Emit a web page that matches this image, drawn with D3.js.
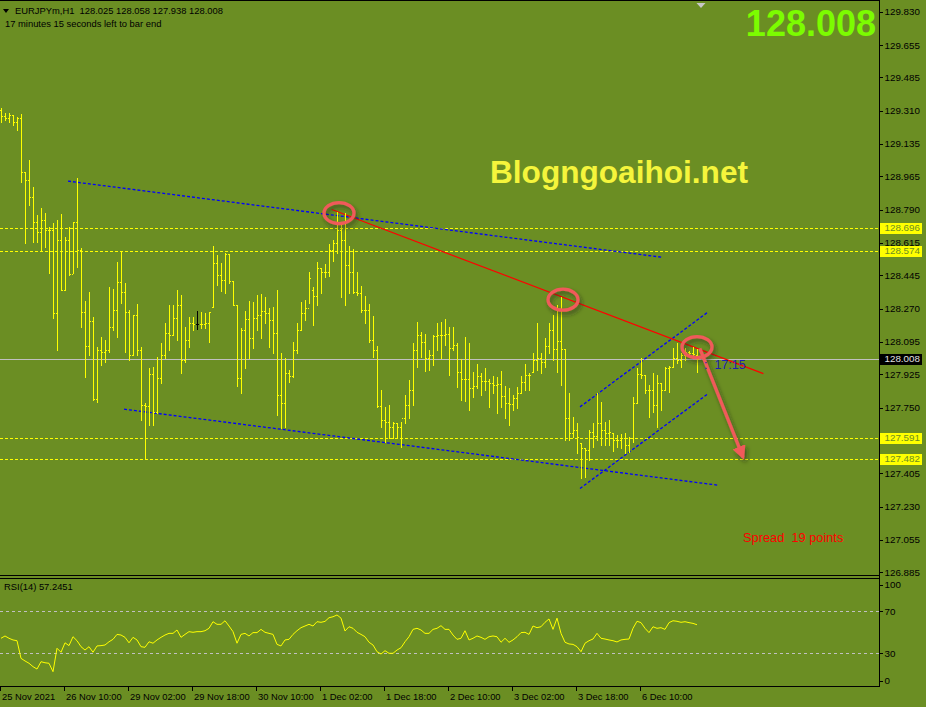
<!DOCTYPE html>
<meta charset="utf-8">
<body style="margin:0;background:#6b8e23">
<script src="https://cdn.jsdelivr.net/npm/d3@7"></script>
<script>
// EURJPYm H1 bars
var opens = [129.313,129.281,129.271,129.287,129.250,129.271,128.987,128.945,128.856,128.724,128.672,128.735,128.683,128.683,128.246,128.630,128.367,128.630,128.451,128.724,
128.577,128.251,128.073,128.204,127.794,128.052,128.041,128.052,128.173,128.262,128.409,128.357,128.251,128.026,128.236,128.052,127.763,127.757,127.926,127.726,
127.905,128.026,128.141,128.131,128.220,128.289,127.999,128.104,128.194,128.188,128.188,128.188,128.194,128.278,128.509,128.446,128.420,128.556,128.414,128.289,
127.905,128.157,128.215,128.115,128.220,128.236,128.257,128.246,128.209,128.141,127.815,127.773,127.931,127.915,128.052,128.157,128.246,128.272,128.367,128.336,
128.483,128.462,128.462,128.577,128.614,128.683,128.630,128.498,128.462,128.357,128.351,128.262,128.262,128.104,128.052,127.757,127.684,127.673,127.647,127.668,
127.647,127.694,127.763,127.842,128.052,128.131,128.094,128.010,128.026,128.125,128.131,128.131,128.136,128.062,128.078,127.936,127.899,127.899,127.852,127.863,
127.915,127.889,127.889,127.878,127.868,127.873,127.810,127.773,127.768,127.799,127.826,127.884,127.920,127.936,127.999,128.010,127.989,128.073,128.157,128.057,
128.099,128.057,127.694,127.616,127.631,127.563,127.537,127.526,127.621,127.600,127.668,127.631,127.616,127.616,127.579,127.579,127.589,127.552,127.589,127.773,
127.926,127.920,127.842,127.842,127.763,127.878,127.842,127.957,127.962,128.010,127.999,128.026,128.041,128.036,128.025];
var highs = [129.324,129.297,129.297,129.287,129.276,129.292,128.987,129.050,128.908,128.762,128.798,128.772,128.698,128.719,128.735,128.767,128.646,128.698,128.724,128.956,
128.588,128.309,128.357,128.225,128.068,128.120,128.104,128.383,128.373,128.514,128.567,128.404,128.262,128.236,128.294,128.068,127.773,127.957,127.962,128.015,
128.089,128.194,128.289,128.289,128.367,128.341,128.173,128.225,128.225,128.257,128.251,128.246,128.251,128.598,128.551,128.509,128.561,128.556,128.414,128.289,
128.167,128.257,128.309,128.304,128.341,128.346,128.330,128.272,128.278,128.367,128.036,128.010,127.947,128.094,128.194,128.304,128.315,128.462,128.383,128.514,
128.483,128.504,128.609,128.630,128.777,128.724,128.772,128.598,128.582,128.462,128.388,128.336,128.294,128.231,128.073,127.842,127.752,127.763,127.673,127.668,
127.673,127.815,127.894,128.089,128.199,128.146,128.136,128.052,128.131,128.194,128.199,128.215,128.173,128.173,128.089,128.004,128.120,128.089,127.936,127.978,
127.931,127.957,127.899,127.915,127.910,127.941,127.863,127.852,127.815,127.857,127.915,127.978,127.931,128.036,128.194,128.036,128.115,128.194,128.236,128.289,
128.330,128.057,127.826,127.700,127.668,127.563,127.537,127.631,127.668,127.826,127.778,127.673,127.684,127.616,127.605,127.610,127.616,127.595,127.805,127.957,
128.010,127.920,127.868,127.931,127.920,127.878,127.962,127.968,128.062,128.089,128.036,128.062,128.047,128.068,128.058];
var lows = [129.250,129.261,129.250,129.235,129.208,128.934,128.614,128.814,128.619,128.619,128.577,128.593,128.456,128.220,128.052,128.367,128.367,128.446,128.456,128.488,
128.172,127.910,128.026,127.789,127.778,127.973,127.989,128.041,128.157,128.120,128.299,128.041,127.999,128.026,128.026,127.684,127.484,127.658,127.658,127.721,
127.878,128.010,128.052,128.131,128.104,127.931,127.989,128.068,128.157,128.162,128.167,128.167,128.094,128.278,128.394,128.362,128.351,128.404,128.289,127.863,
127.826,127.957,128.010,128.062,128.157,128.115,128.194,128.068,128.036,127.710,127.642,127.647,127.884,127.910,128.036,128.157,128.209,128.299,128.183,128.289,
128.351,128.435,128.441,128.519,128.561,128.330,128.289,128.351,128.351,128.341,128.251,128.194,128.094,128.015,127.752,127.647,127.568,127.589,127.589,127.589,
127.542,127.668,127.694,127.763,127.962,128.015,127.941,127.947,127.973,128.052,128.010,128.078,127.920,128.052,127.857,127.789,127.784,127.737,127.805,127.852,
127.815,127.842,127.752,127.826,127.721,127.752,127.694,127.658,127.737,127.747,127.826,127.842,127.842,127.936,127.947,127.931,127.962,128.036,127.999,127.936,
127.868,127.579,127.579,127.595,127.510,127.379,127.384,127.474,127.542,127.579,127.552,127.552,127.552,127.521,127.542,127.537,127.510,127.516,127.568,127.773,
127.905,127.826,127.700,127.726,127.647,127.737,127.842,127.831,127.962,127.983,127.962,127.999,128.015,128.015,127.938];
var closes = [129.281,129.271,129.287,129.250,129.271,128.987,128.945,128.856,128.724,128.672,128.735,128.683,128.683,128.246,128.630,128.367,128.630,128.451,128.724,128.577,
128.251,128.073,128.204,127.794,128.052,128.041,128.052,128.173,128.262,128.409,128.357,128.251,128.026,128.236,128.052,127.763,127.757,127.926,127.726,127.905,
128.026,128.141,128.131,128.220,128.289,127.999,128.104,128.194,128.188,128.188,128.188,128.194,128.251,128.509,128.446,128.420,128.556,128.414,128.289,127.905,
128.157,128.215,128.115,128.220,128.236,128.257,128.246,128.209,128.141,127.815,127.773,127.931,127.915,128.052,128.157,128.246,128.272,128.430,128.336,128.483,
128.462,128.462,128.577,128.614,128.683,128.630,128.498,128.462,128.357,128.351,128.262,128.262,128.104,128.052,127.757,127.684,127.673,127.647,127.668,127.647,
127.694,127.763,127.842,128.052,128.131,128.094,128.010,128.026,128.125,128.131,128.131,128.136,128.062,128.078,127.936,127.899,127.899,127.852,127.863,127.915,
127.889,127.889,127.878,127.868,127.873,127.810,127.773,127.768,127.800,127.826,127.884,127.920,127.920,127.999,128.010,127.989,128.073,128.157,128.057,128.099,
128.057,127.694,127.616,127.631,127.595,127.537,127.526,127.621,127.600,127.668,127.631,127.616,127.621,127.579,127.579,127.589,127.552,127.589,127.773,127.926,
127.920,127.842,127.842,127.763,127.878,127.842,127.957,127.962,128.010,127.999,128.026,128.041,128.036,128.031,128.008];
var rsi = [44.3,46.5,44.3,42.7,42,25.2,22.7,20.5,17.3,15,22,21,20.5,12.5,34.8,31,40,37.3,45.8,42,
36.3,33.1,36.3,31,37,37.3,37.9,41,43.3,48,47.4,45.2,40,45.2,42.7,36.3,35.7,41,39.6,42.7,
45.2,47.4,49,49,52.2,45.2,48,50.6,50,50.6,50.6,51.5,53.8,60.1,57.6,57.6,61,56,50.6,39.6,
48,49,46.5,49.7,49.7,52.8,50,49,48,38.5,37,42.7,43.3,48,51.5,54.4,56,57.6,56,60.1,
59.5,60.4,63.9,64.8,66.5,63.5,51.2,55.3,53.8,50,48,45.8,40.5,37.9,31.5,29.3,32.5,30,30,33.1,
35.3,41,45.8,52.8,53.8,52.2,49,49,52.8,53.8,56.3,52.8,52.8,47.4,43.3,44.3,51.5,42.7,44.3,46.5,
45.2,43.3,45.8,46.5,45.8,40.5,44.3,40.5,42.7,45.8,49.7,50,48,56,54.4,55.3,59.5,62.7,52.8,63.5,
49,40.5,38.9,38.5,36.3,31.5,39.6,42,43.6,49,44.3,43.6,42.7,42,40.8,42.7,43.3,43.6,53.8,60.5,
59.2,53.8,49.7,55.3,53.8,54.4,52.8,59.2,61,60.5,59.5,60.1,59.2,58.5,57.2];
var rsiLast = "57.2451";

var priceTicks = [129.830,129.655,129.485,129.310,129.135,128.965,128.790,128.615,128.445,128.270,128.095,127.925,127.750,127.575,127.405,127.230,127.055,126.885];
var levels = [128.696,128.574,127.591,127.482];
var lastPrice = 128.008;
var rsiLevels = [70,30];
var rsiTicks = [100,70,30,0];
var timeLabels = ["25 Nov 2021","26 Nov 10:00","29 Nov 02:00","29 Nov 18:00","30 Nov 10:00","1 Dec 02:00","1 Dec 18:00","2 Dec 10:00","3 Dec 02:00","3 Dec 18:00","6 Dec 10:00"];
var barsPerLabel = 16;

// trend lines as [bar, price, bar, price]
var blueLines = [[16.75,128.940,165.25,128.540],[30.75,127.742,179.5,127.342],[144.75,127.754,176.8,128.253],[144.75,127.325,176.8,127.824]];
var redLine = [82.7,128.791,190.6,127.929];
// red marks drawn on the screenshot: [bar, price]
var circles = [[84.5,128.772],[140.5,128.317],[174,128.068]];
var arrow = [174.7,128.061,185.5,127.49];

var W = 926, H = 707;
var nb = "\u00a0";
var svg = d3.select("body").append("svg")
	.attr("width", W).attr("height", H)
	.style("display","block")
	.style("font-family","'Liberation Sans', Arial, sans-serif");

var x = d3.scaleLinear().domain([0, 219.75]).range([1, 880]);
var y = d3.scaleLinear().domain([126.885, 129.830]).range([572.3, 11.7]);
var yr = d3.scaleLinear().domain([0, 100]).range([684.8, 579.8]);
var px = function(v){ return Math.round(v) + 0.5; };

var defs = svg.append("defs");
defs.append("clipPath").attr("id","main").append("rect").attr("x",0).attr("y",1).attr("width",879).attr("height",574);
defs.append("clipPath").attr("id","sub").append("rect").attr("x",0).attr("y",579).attr("width",879).attr("height",107);
var f = defs.append("filter").attr("id","shadow").attr("x","-30%").attr("y","-30%").attr("width","160%").attr("height","160%");
f.append("feDropShadow").attr("dx",2).attr("dy",3).attr("stdDeviation",2).attr("flood-color","#222").attr("flood-opacity",0.55);
defs.append("marker").attr("id","head").attr("viewBox","0 0 10 10").attr("refX",8).attr("refY",5)
	.attr("markerWidth",4.2).attr("markerHeight",4.2).attr("orient","auto").attr("markerUnits","strokeWidth")
	.append("path").attr("d","M0,0 L10,5 L0,10 z").attr("fill","#f05a5a");

// panel frames
var frame = svg.append("g").attr("stroke","#000").attr("shape-rendering","crispEdges");
frame.append("line").attr("x1",0).attr("x2",880).attr("y1",0.5).attr("y2",0.5);
frame.append("line").attr("x1",879.5).attr("x2",879.5).attr("y1",0).attr("y2",687);
[575.5, 578.5, 686.5].forEach(function(v){
	frame.append("line").attr("x1",0).attr("x2",880).attr("y1",v).attr("y2",v);
});

var main = svg.append("g").attr("clip-path","url(#main)");

// horizontal levels
main.selectAll(".lvl").data(levels).enter().append("line")
	.attr("x1",0).attr("x2",879).attr("y1",function(d){return px(y(d));}).attr("y2",function(d){return px(y(d));})
	.attr("stroke","#ffff00").attr("stroke-dasharray","3,2").attr("shape-rendering","crispEdges");
main.append("line").attr("x1",0).attr("x2",879).attr("y1",px(y(lastPrice))).attr("y2",px(y(lastPrice)))
	.attr("stroke","#c0c0c0").attr("shape-rendering","crispEdges");

// trend lines
main.selectAll(".bl").data(blueLines).enter().append("line")
	.attr("x1",function(d){return x(d[0]);}).attr("y1",function(d){return y(d[1]);})
	.attr("x2",function(d){return x(d[2]);}).attr("y2",function(d){return y(d[3]);})
	.attr("stroke","#0000ff").attr("stroke-width",1.3).attr("stroke-dasharray","3,2");
main.append("line")
	.attr("x1",x(redLine[0])).attr("y1",y(redLine[1])).attr("x2",x(redLine[2])).attr("y2",y(redLine[3]))
	.attr("stroke","#ff0000").attr("stroke-width",1.2);

// OHLC bars
var bars = main.append("g").attr("shape-rendering","crispEdges");
d3.range(opens.length).forEach(function(i){
	var c = (i === 49) ? "#000" : "#ffff00";
	var bx = Math.round(x(i));
	var top = Math.round(y(highs[i])), bot = Math.round(y(lows[i]));
	bars.append("rect").attr("x",bx).attr("y",top).attr("width",1).attr("height",Math.max(1, bot - top + 1)).attr("fill",c);
	bars.append("rect").attr("x",bx-1).attr("y",Math.round(y(opens[i]))).attr("width",1).attr("height",1).attr("fill",c);
	bars.append("rect").attr("x",bx+1).attr("y",Math.round(y(closes[i]))).attr("width",1).attr("height",1).attr("fill",c);
});

// watermark text
svg.append("text").attr("x",490).attr("y",183).attr("font-size",31.6).attr("font-weight","bold")
	.attr("fill","#f5f53c").text("Blogngoaihoi.net");

// hand drawn red marks
var marks = svg.append("g").attr("filter","url(#shadow)");
marks.selectAll("ellipse").data(circles).enter().append("ellipse")
	.attr("cx",function(d){return x(d[0]);}).attr("cy",function(d){return y(d[1]);})
	.attr("rx",15).attr("ry",10.5).attr("fill","none").attr("stroke","#f05a5a").attr("stroke-width",3.3);
marks.append("line").attr("x1",x(arrow[0])).attr("y1",y(arrow[1])).attr("x2",x(arrow[2])).attr("y2",y(arrow[3]))
	.attr("stroke","#f05a5a").attr("stroke-width",3.3).attr("marker-end","url(#head)");

// countdown and spread
svg.append("text").attr("x",704).attr("y",369).attr("font-size",12.5).attr("fill","#1e1eb4").text(":" + nb + nb + "17:15");
svg.append("text").attr("x",743).attr("y",542).attr("font-size",12.8).attr("fill","#ff0000").text("Spread" + nb + nb + "19 points");

// price axis
var axis = svg.append("g").attr("font-size",9.8);
priceTicks.forEach(function(t){
	axis.append("line").attr("x1",879).attr("x2",883).attr("y1",px(y(t))).attr("y2",px(y(t))).attr("stroke","#000").attr("shape-rendering","crispEdges");
	axis.append("text").attr("x",884.5).attr("y",y(t)+3.5).attr("fill","#000").text(t.toFixed(3));
});
levels.forEach(function(l){
	axis.append("rect").attr("x",880).attr("y",Math.round(y(l))-5).attr("width",42).attr("height",11).attr("fill","#ffff00");
	axis.append("text").attr("x",884.5).attr("y",y(l)+3.5).attr("fill","#6b8e23").text(l.toFixed(3));
});
axis.append("rect").attr("x",880).attr("y",Math.round(y(lastPrice))-5).attr("width",42).attr("height",11).attr("fill","#000");
axis.append("text").attr("x",884.5).attr("y",y(lastPrice)+3.5).attr("fill","#e0e0e0").text(lastPrice.toFixed(3));

// big price
svg.append("text").attr("x",876).attr("y",36).attr("text-anchor","end").attr("font-size",36).attr("font-weight","bold")
	.attr("fill","#7cfc00").text(lastPrice.toFixed(3));

// chart shift marker
var sx = x(opens.length);
svg.append("path").attr("d","M"+(sx-4.5)+",3 L"+(sx+4.5)+",3 L"+sx+",8 z").attr("fill","#c8c8c8");

// header
svg.append("path").attr("d","M3,9 L9,9 L6,13 z").attr("fill","#000");
svg.append("text").attr("x",15).attr("y",14).attr("font-size",9.4).attr("fill","#000")
	.text("EURJPYm,H1" + nb + nb + [opens[opens.length-1], highs[highs.length-1], lows[lows.length-1], closes[closes.length-1]].map(function(v){return v.toFixed(3);}).join(" "));
svg.append("text").attr("x",5).attr("y",26.5).attr("font-size",9.4).attr("fill","#000").text("17 minutes 15 seconds left to bar end");

// RSI panel
var sub = svg.append("g").attr("clip-path","url(#sub)");
sub.selectAll(".rl").data(rsiLevels).enter().append("line")
	.attr("x1",0).attr("x2",879).attr("y1",function(d){return px(yr(d));}).attr("y2",function(d){return px(yr(d));})
	.attr("stroke","#c0c0c0").attr("stroke-dasharray","3,3").attr("shape-rendering","crispEdges");
sub.append("path").datum(rsi)
	.attr("d", d3.line().x(function(d,i){return x(i);}).y(function(d){return yr(d);}))
	.attr("fill","none").attr("stroke","#ffff00").attr("stroke-width",1);
svg.append("text").attr("x",4).attr("y",589.5).attr("font-size",9.4).attr("fill","#000").text("RSI(14) " + rsiLast);
rsiTicks.forEach(function(t){
	var ty = yr(t) + (t === 100 ? 5 : t === 0 ? -4 : 0);
	svg.append("line").attr("x1",879).attr("x2",883).attr("y1",px(ty)).attr("y2",px(ty)).attr("stroke","#000").attr("shape-rendering","crispEdges");
	svg.append("text").attr("x",884.5).attr("y",ty+3.5).attr("font-size",9.8).attr("fill","#000").text(t);
});

// time axis
timeLabels.forEach(function(l,k){
	var tx = px(x(k*barsPerLabel)) - 1;
	svg.append("line").attr("x1",tx).attr("x2",tx).attr("y1",687).attr("y2",691).attr("stroke","#000").attr("shape-rendering","crispEdges");
	svg.append("text").attr("x",tx+1.5).attr("y",700).attr("font-size",9.4).attr("fill","#000").text(l);
});
</script>
</body>
